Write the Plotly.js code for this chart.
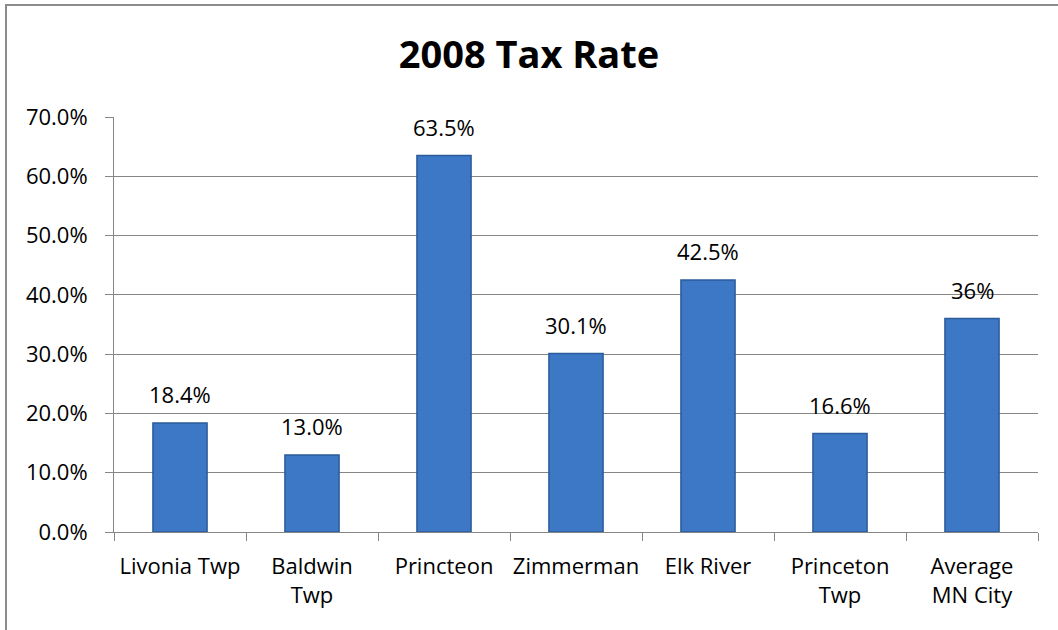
<!DOCTYPE html>
<html><head><meta charset="utf-8">
<script src="https://cdn.plot.ly/plotly-3.0.1.min.js"></script>
<style>
html,body{margin:0;padding:0;background:#fff;}
#wrap{position:relative;width:1058px;height:630px;overflow:hidden;}
#chart{width:1058px;height:630px;}
#frame{position:absolute;left:5px;top:4px;width:1060px;height:640px;border-top:2px solid #8c8c8c;border-left:2px solid #8c8c8c;pointer-events:none;}
</style></head>
<body><div id="wrap"><div id="chart"></div><div id="frame"></div></div>
<script>
const categories = ["Livonia Twp", "Baldwin<br>Twp", "Princteon", "Zimmerman", "Elk River", "Princeton<br>Twp", "Average<br>MN City"];
const taxRates = [18.4, 13.0, 63.5, 30.1, 42.5, 16.6, 36];
const valueLabels = ["18.4%", "13.0%", "63.5%", "30.1%", "42.5%", "16.6%", "36%"];
const yTickVals = [0, 10, 20, 30, 40, 50, 60, 70];
const yTickText = ["0.0%", "10.0%", "20.0%", "30.0%", "40.0%", "50.0%", "60.0%", "70.0%"];

const font = "'Open Sans', sans-serif";
const labelAnnotations = categories.map((c, i) => ({
  x: c, y: taxRates[i], xref: "x", yref: "y",
  text: valueLabels[i], showarrow: false,
  yanchor: "bottom", yshift: 12,
  font: {family: font, size: 22, color: "#000"}
}));

Plotly.newPlot("chart", [{
  type: "bar",
  x: categories,
  y: taxRates,
  marker: {color: "#3c78c5", line: {color: "#2b5b9a", width: 1.5}},
  hoverinfo: "none"
}], {
  width: 1058, height: 630,
  margin: {l: 114, r: 20, t: 117, b: 98},
  paper_bgcolor: "#fff", plot_bgcolor: "#fff",
  bargap: 0.59,
  showlegend: false,
  annotations: labelAnnotations,
  title: {text: "<b>2008 Tax Rate</b>", x: 0.5, xanchor: "center", y: 0.913, yanchor: "middle",
          font: {family: font, size: 38, color: "#000"}},
  xaxis: {
    type: "category",
    tickson: "boundaries",
    tickangle: 0,
    ticks: "outside", ticklen: 8, tickcolor: "#868686", tickwidth: 1,
    showline: true, linecolor: "#868686", linewidth: 1,
    showgrid: false,
    ticklabelstandoff: 15,
    tickfont: {family: font, size: 22, color: "#000"}
  },
  yaxis: {
    range: [0, 70],
    tickvals: yTickVals, ticktext: yTickText,
    ticks: "outside", ticklen: 8, tickcolor: "#868686",
    showline: true, linecolor: "#868686", linewidth: 1,
    showgrid: true, gridcolor: "#868686", gridwidth: 1,
    zeroline: false,
    ticklabelstandoff: 13,
    tickfont: {family: font, size: 22, color: "#000"}
  }
}, {staticPlot: true});
</script></body></html>
